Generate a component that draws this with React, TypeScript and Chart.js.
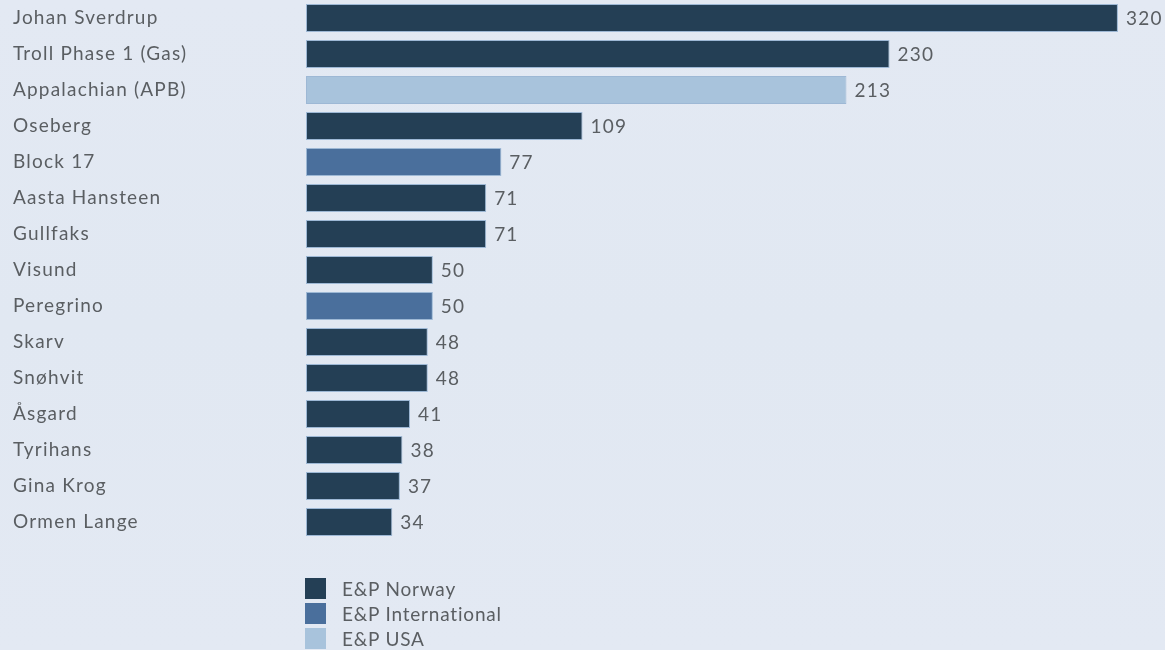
import React, { useEffect, useRef } from "react";
import { Chart, registerables } from "chart.js";

Chart.register(...registerables);

const categories = [
  "Johan Sverdrup",
  "Troll Phase 1 (Gas)",
  "Appalachian (APB)",
  "Oseberg",
  "Block 17",
  "Aasta Hansteen",
  "Gullfaks",
  "Visund",
  "Peregrino",
  "Skarv",
  "Snøhvit",
  "Åsgard",
  "Tyrihans",
  "Gina Krog",
  "Ormen Lange",
];
const values = [320, 230, 213, 109, 77, 71, 71, 50, 50, 48, 48, 41, 38, 37, 34];
const segments = [0, 0, 2, 0, 1, 0, 0, 0, 1, 0, 0, 0, 0, 0, 0];
const segmentNames = ["E&P Norway", "E&P International", "E&P USA"];
const segmentColors = ["#243f55", "#4a6f9c", "#a8c3dc"];

const FONT = "Lato, 'Noto Sans', sans-serif";
const WEIGHT = 400;
const TEXT = "#5a5e62";
const SPACING = "1.2px";

const letterSpacingPlugin = {
  id: "letterSpacing",
  beforeInit(chart: any) {
    chart.ctx.letterSpacing = SPACING;
  },
  beforeLayout(chart: any) {
    chart.ctx.letterSpacing = SPACING;
  },
  beforeDraw(chart: any) {
    chart.ctx.letterSpacing = SPACING;
  },
};

const valueLabels = {
  id: "valueLabels",
  afterDatasetsDraw(chart: any) {
    const ctx = chart.ctx;
    const meta = chart.getDatasetMeta(0);
    ctx.save();
    ctx.letterSpacing = SPACING;
    ctx.font = `${WEIGHT} 19px ${FONT}`;
    ctx.fillStyle = TEXT;
    ctx.textAlign = "left";
    ctx.textBaseline = "middle";
    meta.data.forEach((bar: any, i: number) => {
      ctx.fillText(String(values[i]), bar.x + 8, bar.y + 1);
    });
    ctx.restore();
  },
};

export default function App() {
  const ref = useRef<HTMLCanvasElement>(null);
  useEffect(() => {
    if (!ref.current) return;
    const chart = new Chart(ref.current, {
      type: "bar",
      data: {
        labels: categories,
        datasets: [
          {
            data: values,
            backgroundColor: segments.map((s) => segmentColors[s]),
            borderColor: "rgba(150,178,210,0.9)",
            borderWidth: 1,
            borderSkipped: false,
            categoryPercentage: 1,
            barPercentage: 28 / 36,
          },
        ],
      },
      options: {
        indexAxis: "y",
        animation: false,
        responsive: false,
        maintainAspectRatio: false,
        layout: { padding: { left: 13, right: 9, top: 0, bottom: 110 } },
        plugins: { legend: { display: false }, tooltip: { enabled: false } },
        scales: {
          x: { display: false, min: 0, max: 335 },
          y: {
            grid: { display: false },
            border: { display: false },
            afterFit(scale: any) {
              scale.width = 293;
              scale.paddingTop = 0;
              scale.paddingBottom = 0;
            },
            ticks: {
              crossAlign: "far",
              padding: 0,
              color: TEXT,
              font: { family: FONT, size: 19, weight: WEIGHT },
            },
          },
        },
      },
      plugins: [letterSpacingPlugin, valueLabels],
    });
    return () => chart.destroy();
  }, []);

  return (
    <div
      style={{
        position: "fixed",
        left: 0,
        top: 0,
        width: 1165,
        height: 650,
        background:
          "linear-gradient(180deg, #e3e9f3 0%, #e1e8f2 50%, #e3e9f3 100%)",
        overflow: "hidden",
      }}
    >
      <canvas
        ref={ref}
        width={1165}
        height={650}
        style={{ position: "absolute", left: 0, top: 0, width: 1165, height: 650 }}
      />
      {segmentNames.map((name, i) => (
        <div
          key={name}
          style={{
            position: "absolute",
            left: 305,
            top: 578 + i * 25,
            height: 21,
            display: "flex",
            alignItems: "center",
            fontFamily: FONT,
            fontWeight: WEIGHT,
            fontSize: 19,
            letterSpacing: "0.8px",
            color: TEXT,
            whiteSpace: "nowrap",
          }}
        >
          <span
            style={{
              display: "inline-block",
              width: 21,
              height: 21,
              background: segmentColors[i],
              marginRight: 16,
            }}
          />
          {name}
        </div>
      ))}
    </div>
  );
}
